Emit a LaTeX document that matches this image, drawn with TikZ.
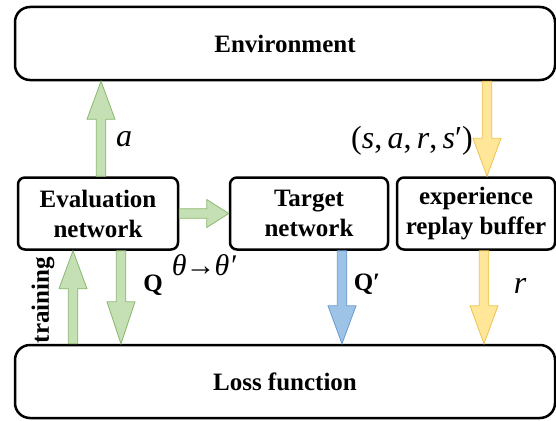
\documentclass[tikz,border=0pt]{standalone}
\usepackage{fontspec}
\setmainfont{Liberation Serif}
\usetikzlibrary{calc}
\definecolor{greenfill}{HTML}{C5E0B4}
\definecolor{greenline}{HTML}{8CB86C}
\definecolor{bluefill}{HTML}{9DC3E6}
\definecolor{blueline}{HTML}{6A9BD0}
\definecolor{yellowfill}{HTML}{FFE699}
\definecolor{yellowline}{HTML}{EDC34E}
\tikzset{
    every node/.style={font=\fontsize{25}{30}\selectfont\bfseries},
    big box/.style={draw,line width=2.5pt,rounded corners=15pt,minimum width=540pt,minimum height=73pt},
    net box/.style={draw,line width=2.5pt,rounded corners=7pt,minimum width=158pt,minimum height=72pt,align=center,inner xsep=3pt},
    green arrow/.style={fill=greenfill,draw=greenline,line width=0.8pt},
    blue arrow/.style={fill=bluefill,draw=blueline,line width=0.8pt},
    yellow arrow/.style={fill=yellowfill,draw=yellowline,line width=0.8pt},
    math label/.style={font=\fontsize{32}{36}\selectfont\itshape}
}
% block arrow: [head length]{style}{from}{to}
\newcommand{\blockarrow}[4][38pt]{%
    \coordinate (ah) at ($(#4)!#1!(#3)$);
    \draw[#2] ($(#3)!4.75pt!90:(#4)$) -- ($(ah)!4.75pt!90:(#4)$) -- ($(ah)!14pt!90:(#4)$) -- (#4)
        -- ($(ah)!14pt!-90:(#4)$) -- ($(ah)!4.75pt!-90:(#4)$) -- ($(#3)!4.75pt!-90:(#4)$) -- cycle;
}
\begin{document}
\begin{tikzpicture}[x=1pt,y=-1pt]

    \useasboundingbox (0,0) rectangle (556,420);

    \node[big box] (env) at (285,43.5) {Environment};
    \node[big box] (loss) at (285,381.5) {Loss function};
    \node[net box,minimum width=160pt] (eval) at (98,213.5) {Evaluation\\network};
    \node[net box] (target) at (309,213.5) {Target\\network};
    \node[net box] (buffer) at (476,213.5) {experience\\replay buffer};

    % arrows
    \coordinate (aS) at ([xshift=3pt]eval.north);
    \coordinate (aE) at (aS |- env.south);
    \blockarrow{green arrow}{aS}{aE}
    \blockarrow[22pt]{green arrow}{eval.east}{target.west}

    \coordinate (qS) at ([xshift=23pt]eval.south);
    \coordinate (qE) at (qS |- loss.north);
    \blockarrow[42pt]{green arrow}{qS}{qE}

    \coordinate (tE) at ([xshift=-25pt]eval.south);
    \coordinate (tS) at (tE |- loss.north);
    \blockarrow{green arrow}{tS}{tE}

    \coordinate (qtS) at ([xshift=33pt]target.south);
    \coordinate (qtE) at (qtS |- loss.north);
    \blockarrow{blue arrow}{qtS}{qtE}

    \coordinate (eE) at ([xshift=11pt]buffer.north);
    \coordinate (eS) at (eE |- env.south);
    \blockarrow{yellow arrow}{eS}{eE}

    \coordinate (rS) at ([xshift=8pt]buffer.south);
    \coordinate (rE) at (rS |- loss.north);
    \blockarrow{yellow arrow}{rS}{rE}

    % labels
    \node[math label] (alab) at (124,139) {a};
    \node[math label] (tuple) at (412,141) {\upshape(\itshape s\upshape,\,\itshape a\upshape,\,\itshape r\upshape,\,\itshape s\upshape′)};
    \node[math label,font=\fontsize{30}{34}\selectfont\itshape] (thlab) at (204,265) {θ\kern-1pt\upshape→\kern-1pt\itshape θ′};
    \node (qlab) at (153,285) {Q};
    \node (qtlab) at (367,284) {Q′};
    \node[math label] (rlab) at (520,286) {r};
    \node[rotate=90] (trainlab) at (43,300) {training};

\end{tikzpicture}
\end{document}
